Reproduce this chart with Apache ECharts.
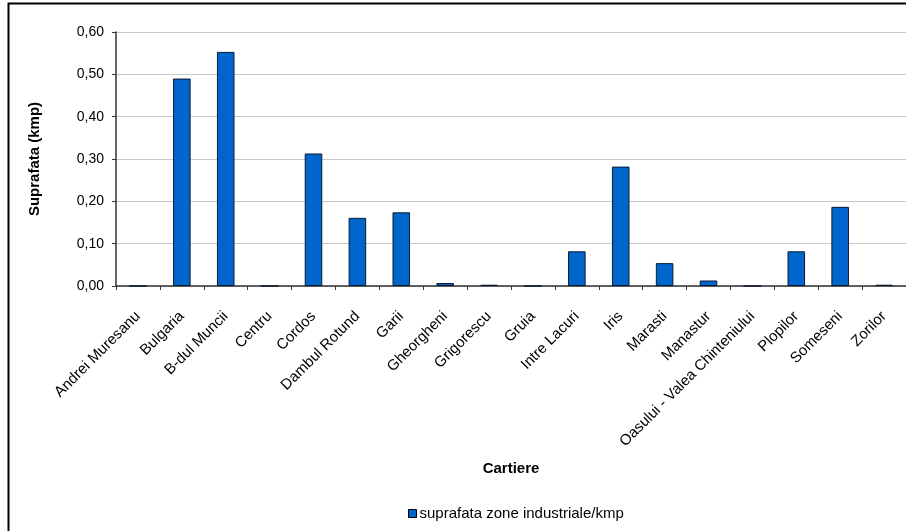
<!DOCTYPE html>
<html>
<head>
<meta charset="utf-8">
<style>
  html, body { margin: 0; padding: 0; background: #fff; overflow: hidden; }
  #chart { width: 906px; height: 531px; }
</style>
<script src="https://cdn.jsdelivr.net/npm/echarts@6/dist/echarts.min.js"></script>
</head>
<body>
<div id="chart"></div>
<script>
// Districts (cartiere) of the city
const cartiere = [
  'Andrei Muresanu', 'Bulgaria', 'B-dul Muncii', 'Centru', 'Cordos',
  'Dambul Rotund', 'Garii', 'Gheorgheni', 'Grigorescu', 'Gruia',
  'Intre Lacuri', 'Iris', 'Marasti', 'Manastur',
  'Oasului - Valea Chinteniului', 'Plopilor', 'Someseni', 'Zorilor'
];

// Industrial area per district, km²
const suprafata = [
  0, 0.49, 0.553, 0, 0.313,
  0.161, 0.174, 0.007, 0.003, 0,
  0.082, 0.282, 0.054, 0.013,
  0, 0.082, 0.187, 0.003
];

const seriesName = 'suprafata zone industriale/kmp';
const yTicks = [0, 0.1, 0.2, 0.3, 0.4, 0.5, 0.6];

const FONT = '"Liberation Sans", Arial, sans-serif';

const chart = echarts.init(document.getElementById('chart'), null, { renderer: 'canvas' });

chart.setOption({
  animation: false,
  backgroundColor: '#ffffff',
  textStyle: { fontFamily: FONT, color: '#000' },
  // outer frame of the chart area
  graphic: [{
    type: 'rect',
    shape: { x: 8.5, y: 3.5, width: 1000, height: 1000 },
    style: { fill: 'none', stroke: '#000', lineWidth: 2 },
    silent: true,
    z: 100
  }],
  grid: { left: 116, top: 32, right: -2, bottom: 245, containLabel: false },
  legend: {
    left: 403, top: 501,
    padding: 5,
    icon: 'rect',
    itemWidth: 8, itemHeight: 8,
    textStyle: { fontFamily: FONT, fontSize: 15, color: '#000', padding: [0, 0, 0, -2] },
    itemStyle: { borderColor: '#000', borderWidth: 1 },
    data: [seriesName]
  },
  xAxis: {
    type: 'category',
    data: cartiere,
    name: 'Cartiere',
    nameLocation: 'middle',
    nameGap: 175,
    nameTextStyle: { fontFamily: FONT, fontSize: 15, fontWeight: 'bold', color: '#000' },
    axisLine: { lineStyle: { color: '#333', width: 1.5 } },
    axisTick: { show: true, alignWithLabel: false, length: 4, lineStyle: { color: '#333' } },
    axisLabel: {
      rotate: 45, interval: 0, margin: 28,
      fontFamily: FONT, fontSize: 15, color: '#000'
    },
    splitLine: { show: false }
  },
  yAxis: {
    type: 'value',
    min: yTicks[0],
    max: yTicks[yTicks.length - 1],
    interval: 0.1,
    name: 'Suprafata (kmp)',
    nameLocation: 'middle',
    nameGap: 74,
    nameTextStyle: { fontFamily: FONT, fontSize: 15, fontWeight: 'bold', color: '#000' },
    axisLine: { show: true, lineStyle: { color: '#333', width: 1.5 } },
    axisTick: { show: true, length: 4, lineStyle: { color: '#333' } },
    axisLabel: {
      margin: 12,
      fontFamily: FONT, fontSize: 14, color: '#000',
      formatter: v => v.toFixed(2).replace('.', ',')
    },
    splitLine: { show: true, lineStyle: { color: '#c8c8c8', width: 1 } }
  },
  series: [{
    name: seriesName,
    type: 'bar',
    data: suprafata,
    barWidth: '40%',
    itemStyle: { color: '#0066CC', borderColor: '#0a1a33', borderWidth: 1 }
  }]
});
</script>
</body>
</html>
